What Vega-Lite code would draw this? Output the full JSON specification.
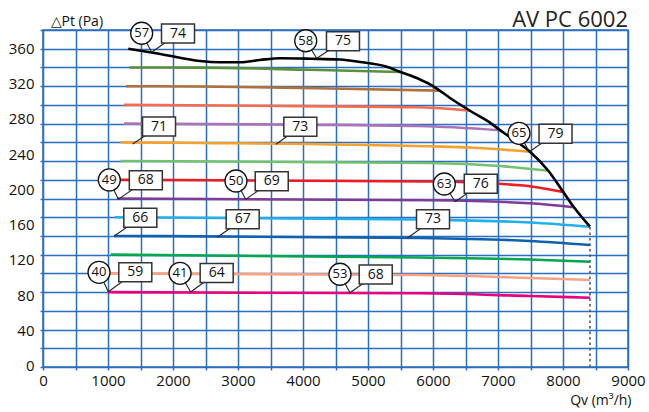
{
  "$schema": "https://vega.github.io/schema/vega-lite/v6.json",
  "width": 585,
  "height": 337,
  "autosize": {"type": "none"},
  "padding": {"left": 43, "top": 30, "right": 21, "bottom": 45},
  "background": "white",
  "config": {
    "view": {"stroke": "#2a6ebf", "strokeWidth": 1.5},
    "font": "Open Sans"
  },
  "title": {
    "text": "AV PC 6002",
    "anchor": "end",
    "frame": "group",
    "fontSize": 22,
    "fontWeight": "normal",
    "font": "Open Sans",
    "color": "#222222",
    "baseline": "alphabetic",
    "offset": 5,
    "dy": 40
  },
  "datasets": {
    "curves": [
      {"series": "s340", "q": 1328, "p": 340.2}, {"series": "s340", "q": 2415, "p": 340.0}, {"series": "s340", "q": 4108, "p": 337.5}, {"series": "s340", "q": 5492, "p": 335.0},
      {"series": "s319", "q": 1277, "p": 318.9}, {"series": "s319", "q": 2415, "p": 318.6}, {"series": "s319", "q": 4415, "p": 316.3}, {"series": "s319", "q": 6108, "p": 313.8},
      {"series": "s298", "q": 1246, "p": 297.7}, {"series": "s298", "q": 3954, "p": 296.3}, {"series": "s298", "q": 5800, "p": 294.9}, {"series": "s298", "q": 6569, "p": 291.0},
      {"series": "s276", "q": 1246, "p": 276.4}, {"series": "s276", "q": 3954, "p": 275.2}, {"series": "s276", "q": 5800, "p": 273.6}, {"series": "s276", "q": 7031, "p": 268.8},
      {"series": "s255", "q": 1195, "p": 255.1}, {"series": "s255", "q": 2415, "p": 254.4}, {"series": "s255", "q": 5954, "p": 250.6}, {"series": "s255", "q": 6569, "p": 249.2}, {"series": "s255", "q": 7492, "p": 244.5},
      {"series": "s234", "q": 1195, "p": 233.9}, {"series": "s234", "q": 5954, "p": 231.6}, {"series": "s234", "q": 7031, "p": 228.2}, {"series": "s234", "q": 7774, "p": 222.9},
      {"series": "s213", "q": 1108, "p": 212.6}, {"series": "s213", "q": 5954, "p": 210.6}, {"series": "s213", "q": 7338, "p": 206.4}, {"series": "s213", "q": 8005, "p": 198.7},
      {"series": "s191", "q": 1143, "p": 191.4}, {"series": "s191", "q": 5954, "p": 189.3}, {"series": "s191", "q": 7492, "p": 185.9}, {"series": "s191", "q": 8169, "p": 181.4},
      {"series": "s170", "q": 1108, "p": 170.1}, {"series": "s170", "q": 5800, "p": 167.5}, {"series": "s170", "q": 7492, "p": 164.1}, {"series": "s170", "q": 8415, "p": 159.3},
      {"series": "s149", "q": 1092, "p": 148.8}, {"series": "s149", "q": 5800, "p": 146.5}, {"series": "s149", "q": 7492, "p": 143.1}, {"series": "s149", "q": 8415, "p": 138.5},
      {"series": "s128", "q": 1042, "p": 127.6}, {"series": "s128", "q": 5800, "p": 124.3}, {"series": "s128", "q": 7492, "p": 122.1}, {"series": "s128", "q": 8415, "p": 119.6},
      {"series": "s106", "q": 1000, "p": 106.3}, {"series": "s106", "q": 5800, "p": 104.5}, {"series": "s106", "q": 7492, "p": 101.1}, {"series": "s106", "q": 8415, "p": 98.8},
      {"series": "s85", "q": 1000, "p": 85.0}, {"series": "s85", "q": 5800, "p": 83.7}, {"series": "s85", "q": 7492, "p": 80.6}, {"series": "s85", "q": 8415, "p": 78.7}
    ],
    "maxcurve": [
      {"q": 1312, "p": 361.4}, {"q": 1646, "p": 357.4}, {"q": 2108, "p": 351.2}, {"q": 2415, "p": 347.5},
      {"q": 2723, "p": 346.0}, {"q": 3031, "p": 346.0}, {"q": 3338, "p": 348.6}, {"q": 3646, "p": 350.6},
      {"q": 4108, "p": 350.1}, {"q": 4569, "p": 349.2}, {"q": 4877, "p": 346.4}, {"q": 5288, "p": 341.0},
      {"q": 5492, "p": 335.3}, {"q": 5800, "p": 326.5}, {"q": 6000, "p": 319.1}, {"q": 6262, "p": 305.5},
      {"q": 6569, "p": 291.0}, {"q": 6877, "p": 277.5}, {"q": 7031, "p": 269.0}, {"q": 7185, "p": 261.0},
      {"q": 7492, "p": 244.5}, {"q": 7774, "p": 222.9}, {"q": 8005, "p": 198.7}, {"q": 8169, "p": 181.4},
      {"q": 8415, "p": 159.3}
    ],
    "limit": [{"q": 8415, "p0": 0, "p1": 159.3}],
    "pointers": [
      {"lq": 1518, "lp": 379.0, "aq": 1672, "ap": 357.4}, {"lq": 2077, "lp": 378.7, "aq": 1672, "ap": 357.4},
      {"lq": 4042, "lp": 370.5, "aq": 4211, "ap": 350.6}, {"lq": 4615, "lp": 370.0, "aq": 4211, "ap": 350.6},
      {"lq": 7323, "lp": 265.4, "aq": 7482, "ap": 244.5}, {"lq": 7885, "lp": 265.0, "aq": 7482, "ap": 244.5},
      {"lq": 1785, "lp": 273.1, "aq": 1380, "ap": 253.2},
      {"lq": 3959, "lp": 272.9, "aq": 3585, "ap": 252.9},
      {"lq": 1020, "lp": 212.4, "aq": 1158, "ap": 190.4}, {"lq": 1582, "lp": 212.0, "aq": 1158, "ap": 190.4},
      {"lq": 2969, "lp": 211.2, "aq": 3118, "ap": 190.4}, {"lq": 3519, "lp": 210.9, "aq": 3118, "ap": 190.4},
      {"lq": 6174, "lp": 207.8, "aq": 6339, "ap": 187.7}, {"lq": 6735, "lp": 208.0, "aq": 6339, "ap": 187.7},
      {"lq": 1497, "lp": 169.4, "aq": 1097, "ap": 148.8},
      {"lq": 3072, "lp": 167.8, "aq": 2682, "ap": 147.3},
      {"lq": 6000, "lp": 167.7, "aq": 5605, "ap": 146.2},
      {"lq": 862, "lp": 107.5, "aq": 1005, "ap": 85.5}, {"lq": 1420, "lp": 107.7, "aq": 1005, "ap": 85.5},
      {"lq": 2108, "lp": 106.4, "aq": 2272, "ap": 85.2}, {"lq": 2672, "lp": 106.7, "aq": 2272, "ap": 85.2},
      {"lq": 4569, "lp": 105.3, "aq": 4723, "ap": 84.4}, {"lq": 5119, "lp": 105.0, "aq": 4723, "ap": 84.4}
    ],
    "circles": [
      {"q": 1518, "p": 379.0, "t": "57"}, {"q": 4042, "p": 370.5, "t": "58"}, {"q": 7323, "p": 265.4, "t": "65"},
      {"q": 1020, "p": 212.4, "t": "49"}, {"q": 2969, "p": 211.2, "t": "50"}, {"q": 6174, "p": 207.8, "t": "63"},
      {"q": 862, "p": 107.5, "t": "40"}, {"q": 2108, "p": 106.4, "t": "41"}, {"q": 4569, "p": 105.3, "t": "53"}
    ],
    "boxes": [
      {"q": 2077, "p": 378.7, "t": "74"}, {"q": 4615, "p": 370.0, "t": "75"}, {"q": 7885, "p": 265.0, "t": "79"},
      {"q": 1785, "p": 273.1, "t": "71"}, {"q": 3959, "p": 272.9, "t": "73"},
      {"q": 1582, "p": 212.0, "t": "68"}, {"q": 3519, "p": 210.9, "t": "69"}, {"q": 6735, "p": 208.0, "t": "76"},
      {"q": 1497, "p": 169.4, "t": "66"}, {"q": 3072, "p": 167.8, "t": "67"}, {"q": 6000, "p": 167.7, "t": "73"},
      {"q": 1420, "p": 107.7, "t": "59"}, {"q": 2672, "p": 106.7, "t": "64"}, {"q": 5119, "p": 105.0, "t": "68"}
    ]
  },
  "layer": [
    {
      "data": {"name": "curves"},
      "mark": {"type": "line", "strokeWidth": 2.6, "interpolate": "monotone"},
      "encoding": {
        "x": {
          "field": "q", "type": "quantitative",
          "scale": {"domain": [0, 9000], "nice": false, "zero": false},
          "axis": {
            "values": [0, 500, 1000, 1500, 2000, 2500, 3000, 3500, 4000, 4500, 5000, 5500, 6000, 6500, 7000, 7500, 8000, 8500, 9000],
            "tickCount": 100,
            "format": "d",
            "labelExpr": "datum.value % 1000 === 0 ? datum.label : ''",
            "labelFlush": false,
            "labelOverlap": false,
            "labelFont": "Open Sans",
            "labelFontSize": 15,
            "labelColor": "#111111",
            "labelPadding": 3,
            "tickSize": 3,
            "tickColor": "#2a6ebf",
            "tickWidth": 1.5,
            "grid": true,
            "gridColor": "#2a6ebf",
            "gridWidth": 1.5,
            "gridOpacity": 1,
            "domain": false,
            "title": "Qv (m³/h)",
            "titleFont": "Open Sans",
            "titleFontSize": 14,
            "titleFontWeight": "normal",
            "titleColor": "#111111",
            "titleAnchor": "end",
            "titleAlign": "right",
            "titleBaseline": "alphabetic",
            "titleX": 588,
            "titleY": 37
          }
        },
        "y": {
          "field": "p", "type": "quantitative",
          "scale": {"domain": [0, 382.7], "nice": false, "zero": false},
          "axis": {
            "values": [0, 21.26, 40, 42.52, 63.78, 80, 85.04, 106.31, 120, 127.57, 148.83, 160, 170.09, 191.35, 200, 212.61, 233.87, 240, 255.13, 276.39, 280, 297.66, 318.92, 320, 340.18, 360, 361.44, 382.7],
            "tickCount": 100,
            "labelExpr": "datum.value % 40 === 0 ? format(datum.value, 'd') : ''",
            "labelOverlap": false,
            "labelFlush": false,
            "labelFont": "Open Sans",
            "labelFontSize": 15,
            "labelColor": "#111111",
            "labelPadding": 6,
            "labelOffset": -1.5,
            "tickSize": 3,
            "tickColor": "#2a6ebf",
            "tickWidth": 1.5,
            "tickOpacity": {"condition": {"test": "datum.value % 40 === 0 && datum.value > 0", "value": 0}, "value": 1},
            "grid": true,
            "gridColor": "#2a6ebf",
            "gridWidth": 1.5,
            "gridOpacity": {"condition": {"test": "datum.value % 40 === 0 && datum.value > 0", "value": 0}, "value": 1},
            "domain": false,
            "title": "△Pt (Pa)",
            "titleFont": "Open Sans",
            "titleFontSize": 14,
            "titleFontWeight": "normal",
            "titleColor": "#111111",
            "titleAngle": 0,
            "titleAnchor": "start",
            "titleAlign": "left",
            "titleBaseline": "alphabetic",
            "titleX": 7,
            "titleY": -5
          }
        },
        "color": {
          "field": "series", "type": "nominal", "legend": null,
          "scale": {
            "domain": ["s340", "s319", "s298", "s276", "s255", "s234", "s213", "s191", "s170", "s149", "s128", "s106", "s85"],
            "range": ["#5b8f3d", "#b0703a", "#f26c4f", "#a874b8", "#f6a02e", "#72c16e", "#ed1c24", "#7d3c98", "#22b0ec", "#1060b0", "#00a651", "#f7a282", "#e6007e"]
          }
        }
      }
    },
    {
      "data": {"name": "maxcurve"},
      "mark": {"type": "line", "strokeWidth": 2.6, "color": "#000000", "interpolate": "monotone"},
      "encoding": {
        "x": {"field": "q", "type": "quantitative"},
        "y": {"field": "p", "type": "quantitative"}
      }
    },
    {
      "data": {"name": "limit"},
      "mark": {"type": "rule", "color": "#555555", "strokeWidth": 1.6, "strokeDash": [2.5, 3]},
      "encoding": {
        "x": {"field": "q", "type": "quantitative"},
        "y": {"field": "p0", "type": "quantitative"},
        "y2": {"field": "p1"}
      }
    },
    {
      "data": {"name": "pointers"},
      "mark": {"type": "rule", "color": "#222222", "strokeWidth": 1.1},
      "encoding": {
        "x": {"field": "lq", "type": "quantitative"},
        "y": {"field": "lp", "type": "quantitative"},
        "x2": {"field": "aq"},
        "y2": {"field": "ap"}
      }
    },
    {
      "data": {"name": "circles"},
      "mark": {"type": "point", "shape": "circle", "size": 484, "filled": true, "fill": "#ffffff", "stroke": "#111111", "strokeWidth": 1.3, "opacity": 1},
      "encoding": {
        "x": {"field": "q", "type": "quantitative"},
        "y": {"field": "p", "type": "quantitative"}
      }
    },
    {
      "data": {"name": "boxes"},
      "mark": {"type": "point", "shape": "M-1,-0.576H1V0.576H-1Z", "size": 1089, "filled": true, "fill": "#ffffff", "stroke": "#333333", "strokeWidth": 1.5, "opacity": 1},
      "encoding": {
        "x": {"field": "q", "type": "quantitative"},
        "y": {"field": "p", "type": "quantitative"}
      }
    },
    {
      "data": {"name": "circles"},
      "mark": {"type": "text", "font": "Open Sans", "fontSize": 13, "color": "#111111", "align": "center", "baseline": "middle"},
      "encoding": {
        "x": {"field": "q", "type": "quantitative"},
        "y": {"field": "p", "type": "quantitative"},
        "text": {"field": "t"}
      }
    },
    {
      "data": {"name": "boxes"},
      "mark": {"type": "text", "font": "Open Sans", "fontSize": 14, "color": "#111111", "align": "center", "baseline": "middle"},
      "encoding": {
        "x": {"field": "q", "type": "quantitative"},
        "y": {"field": "p", "type": "quantitative"},
        "text": {"field": "t"}
      }
    }
  ]
}
